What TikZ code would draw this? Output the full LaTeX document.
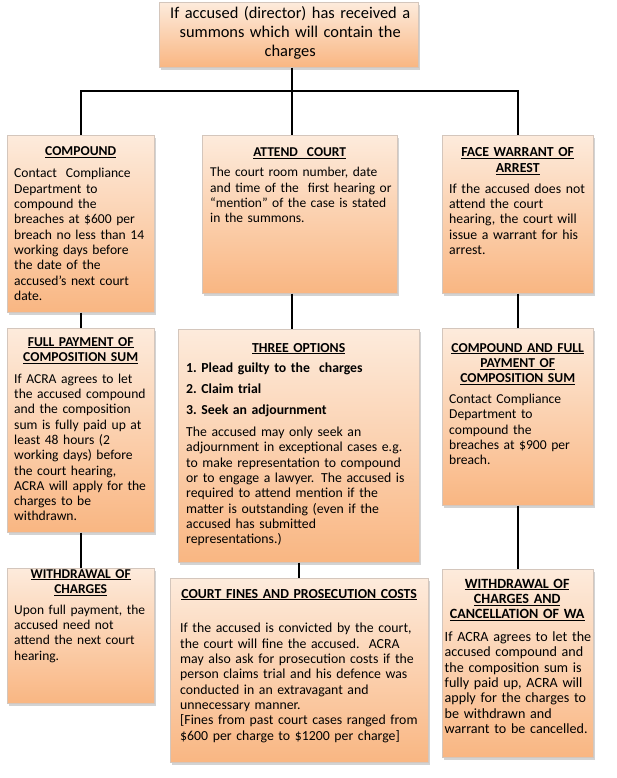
\documentclass[tikz,border=0pt]{standalone}
\usepackage{fontspec}
\setmainfont{Carlito}
\usetikzlibrary{shadows}
\definecolor{boxtop}{RGB}{253,235,220}
\definecolor{boxbot}{RGB}{249,182,130}
\definecolor{boxedge}{RGB}{212,198,188}
\newcommand{\hd}[1]{\underline{\textbf{#1}}}
\newcommand{\lns}[1]{\begin{tabular}[t]{@{}l@{}}#1\end{tabular}}
\begin{document}
\begin{tikzpicture}[x=1pt,y=1pt,
  card/.style={draw=boxedge, line width=0.6pt, top color=boxtop, bottom color=boxbot,
    drop shadow={shadow xshift=1.5pt, shadow yshift=-2.5pt, opacity=0.35},
    inner sep=0pt, anchor=north west},
  txt/.style={inner sep=0pt, anchor=base west, font=\fontsize{#1}{15.3}\selectfont},
  link/.style={line width=1.7pt, black}]
\useasboundingbox (0,0) rectangle (616,-778);

% boxes
\node[card, minimum width=259pt, minimum height=65pt] (top) at (159,-2) {};
\node[card, minimum width=147pt, minimum height=177pt] (c1) at (7,-135) {};
\node[card, minimum width=195pt, minimum height=158pt] (c2) at (202,-135) {};
\node[card, minimum width=151pt, minimum height=158pt] (c3) at (442,-135) {};
\node[card, minimum width=147pt, minimum height=204pt] (m1) at (7,-328) {};
\node[card, minimum width=241pt, minimum height=233pt] (m2) at (178,-329) {};
\node[card, minimum width=151pt, minimum height=177pt] (m3) at (442,-328) {};
\node[card, minimum width=147pt, minimum height=135pt] (b1) at (7,-568) {};
\node[card, minimum width=258pt, minimum height=184pt] (b2) at (170,-578) {};
\node[card, minimum width=151pt, minimum height=188pt] (b3) at (442,-569) {};

% texts
\node[inner sep=0pt, anchor=base west, text width=250pt, align=center,
  font=\fontsize{16.4}{19}\selectfont] (topt) at (165,-19)
  {If accused (director) has received a\\summons which will contain the\\charges};

\node[txt=13.6, text width=133pt] (c1t) at (14,-156) {%
{\centering\hd{COMPOUND}\par}\vspace{6.6pt}\raggedright
\lns{Contact\ \ Compliance\\Department to\\compound the\\breaches at \$600 per\\breach no less than 14\\working days before\\the date of the\\accused’s next court\\date.}};

\node[txt=13.5, text width=179pt] (c2t) at (210,-157) {%
{\centering\hd{ATTEND\ \ COURT}\par}\vspace{4.6pt}\raggedright
\lns{The court room number, date\\and time of the\ \ first hearing or\\“mention” of the case is stated\\in the summons.}};

\node[txt=13.8, text width=137pt] (c3t) at (449,-157) {%
{\centering\hd{FACE WARRANT OF}\\\hd{ARREST}\par}\vspace{5.6pt}\raggedright
\lns{If the accused does not\\attend the court\\hearing, the court will\\issue a warrant for his\\arrest.}};

\node[txt=13.6, text width=133pt] (m1t) at (14,-346) {%
{\centering\hd{FULL PAYMENT OF}\\\hd{COMPOSITION SUM}\par}\vspace{6.6pt}\raggedright
\lns{If ACRA agrees to let\\the accused compound\\and the composition\\sum is fully paid up at\\least 48 hours (2\\working days) before\\the court hearing,\\ACRA will apply for the\\charges to be\\withdrawn.}};

\node[txt=13.75, text width=225pt] (m2t) at (186,-352) {%
{\centering\hd{THREE OPTIONS}\par}\vspace{5.6pt}\raggedright
\textbf{1.\ Plead guilty to the\ \ charges}\par\vspace{5.6pt}
\textbf{2.\ Claim trial}\par\vspace{5.6pt}
\textbf{3.\ Seek an adjournment}\par\vspace{6.6pt}
\lns{The accused may only seek an\\adjournment in exceptional cases e.g.\\to make representation to compound\\or to engage a lawyer. The accused is\\required to attend mention if the\\matter is outstanding (even if the\\accused has submitted\\representations.)}};

\node[txt=13.6, text width=137pt] (m3t) at (449,-352) {%
{\centering\hd{COMPOUND AND FULL}\\\hd{PAYMENT OF}\\\hd{COMPOSITION SUM}\par}\vspace{5.6pt}\raggedright
\lns{Contact Compliance\\Department to\\compound the\\breaches at \$900 per\\breach.}};

\node[txt=13.5, text width=133pt] (b1t) at (14,-578) {%
{\centering\hd{WITHDRAWAL OF}\\\hd{CHARGES}\par}\vspace{5.6pt}\raggedright
\lns{Upon full payment, the\\accused need not\\attend the next court\\hearing.}};

\node[txt=13.8, text width=238pt] (b2t) at (180,-598) {%
{\centering\hd{COURT FINES AND PROSECUTION COSTS}\par}\vspace{19.6pt}\raggedright
\lns{If the accused is convicted by the court,\\the court will fine the accused.\ \ ACRA\\may also ask for prosecution costs if the\\person claims trial and his defence was\\conducted in an extravagant and\\unnecessary manner.\\{[}Fines from past court cases ranged from\\\$600 per charge to \$1200 per charge{]}}};

\node[txt=14.1, text width=145pt] (b3t) at (444.5,-588) {%
{\centering\hd{WITHDRAWAL OF}\\\hd{CHARGES AND}\\\hd{CANCELLATION OF WA}\par}\vspace{7.6pt}\raggedright
\lns{If ACRA agrees to let the\\accused compound and\\the composition sum is\\fully paid up, ACRA will\\apply for the charges to\\be withdrawn and\\warrant to be cancelled.}};

% connectors
\coordinate (j) at (292,-91);
\draw[link] (top.south -| j) -- (c2.north -| j);
\draw[link] (c1.north) |- (j) -| (c3.north);
\draw[link] (c2.south -| j) -- (m2.north -| j);
\draw[link] (m2.south) -- (m2.south |- b2.north);
\draw[link] (c1.south) -- (m1.north);
\draw[link] (m1.south) -- (b1.north);
\draw[link] (c3.south) -- (m3.north);
\draw[link] (m3.south) -- (b3.north);
\end{tikzpicture}
\end{document}
